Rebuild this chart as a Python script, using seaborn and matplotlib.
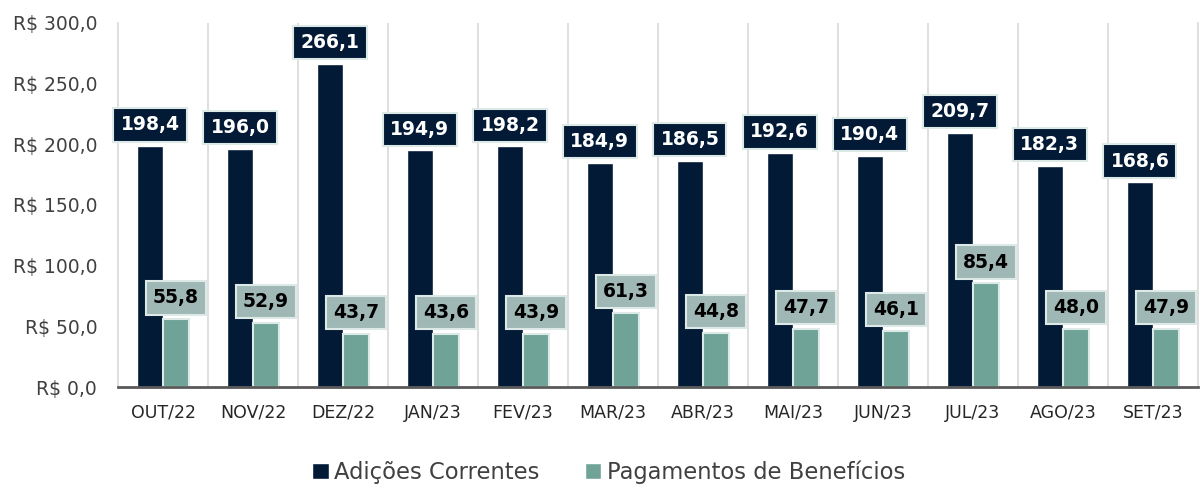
import matplotlib

matplotlib.use("Agg")
import matplotlib.pyplot as plt
import pandas as pd
import seaborn as sns
from matplotlib.ticker import FuncFormatter, MultipleLocator

MONTHS = ["OUT/22", "NOV/22", "DEZ/22", "JAN/23", "FEV/23", "MAR/23",
          "ABR/23", "MAI/23", "JUN/23", "JUL/23", "AGO/23", "SET/23"]
ADICOES = [198.4, 196.0, 266.1, 194.9, 198.2, 184.9, 186.5, 192.6, 190.4, 209.7, 182.3, 168.6]
PAGAMENTOS = [55.8, 52.9, 43.7, 43.6, 43.9, 61.3, 44.8, 47.7, 46.1, 85.4, 48.0, 47.9]
SERIES = ["Adições Correntes", "Pagamentos de Benefícios"]

NAVY = "#021a35"
TEAL = "#6fa398"
TEAL_BOX = "#9fb8b6"
EDGE = "#dde9e6"


def brl(v, _pos=None):
    return "R$ " + f"{v:.1f}".replace(".", ",")


def main() -> None:
    df = pd.DataFrame({
        "mes": MONTHS * 2,
        "valor": ADICOES + PAGAMENTOS,
        "serie": [SERIES[0]] * len(MONTHS) + [SERIES[1]] * len(MONTHS),
    })

    sns.set_theme(style="white")
    plt.rcParams["font.family"] = ["DejaVu Sans"]

    fig = plt.figure(figsize=(12.03, 4.92), dpi=100)
    ax = fig.add_axes([0.0981, 0.2134, 0.8977, 0.74])

    sns.barplot(data=df, x="mes", y="valor", hue="serie", order=MONTHS,
                hue_order=SERIES, palette=[NAVY, TEAL], width=0.58,
                gap=0.03, saturation=1, ax=ax, legend=True)

    # light outline on the teal bars
    for bar in ax.containers[1]:
        bar.set_edgecolor(EDGE)
        bar.set_linewidth(1.5)

    # value labels in boxes
    for cont, face, txtc in [(ax.containers[0], NAVY, "white"),
                             (ax.containers[1], TEAL_BOX, "black")]:
        for bar in cont:
            h = bar.get_height()
            ax.annotate(f"{h:.1f}".replace(".", ","),
                        (bar.get_x() + bar.get_width() / 2, h),
                        xytext=(0, 8.5), textcoords="offset points",
                        ha="center", va="bottom", fontsize=13.5,
                        fontweight="bold", color=txtc,
                        bbox=dict(boxstyle="square,pad=0.38", fc=face,
                                  ec=EDGE, lw=1.5))

    ax.set_ylim(0, 300)
    ax.set_xlim(-0.5, len(MONTHS) - 0.5)
    ax.yaxis.set_major_locator(MultipleLocator(50))
    ax.yaxis.set_major_formatter(FuncFormatter(brl))
    ax.set_xlabel("")
    ax.set_ylabel("")

    # vertical separators between months
    ax.set_xticks([i + 0.5 for i in range(len(MONTHS) - 1)], minor=True)
    ax.grid(which="minor", axis="x", color="#d9d9d9", linewidth=1.2)
    ax.grid(which="major", axis="y", visible=False)
    ax.tick_params(axis="both", which="both", length=0)
    ax.tick_params(axis="y", labelsize=13.5, colors="#404040", pad=15)
    ax.tick_params(axis="x", labelsize=12.5, colors="#262626", pad=12)

    ax.spines["top"].set_visible(False)
    for side in ["left", "right"]:
        ax.spines[side].set_color("#d9d9d9")
        ax.spines[side].set_linewidth(1.2)
    ax.spines["bottom"].set_color("#595959")
    ax.spines["bottom"].set_linewidth(2)

    handles, labels = ax.get_legend_handles_labels()
    ax.legend_.remove()
    fig.legend(handles, labels, loc="center", bbox_to_anchor=(0.506, 0.04),
               ncol=2, frameon=False, fontsize=16.3, handlelength=0.72,
               handleheight=0.72, handletextpad=0.25, columnspacing=2.0,
               labelcolor="#404040")

    fig.savefig("out.png", dpi=100)
    plt.close(fig)


if __name__ == "__main__":
    main()
